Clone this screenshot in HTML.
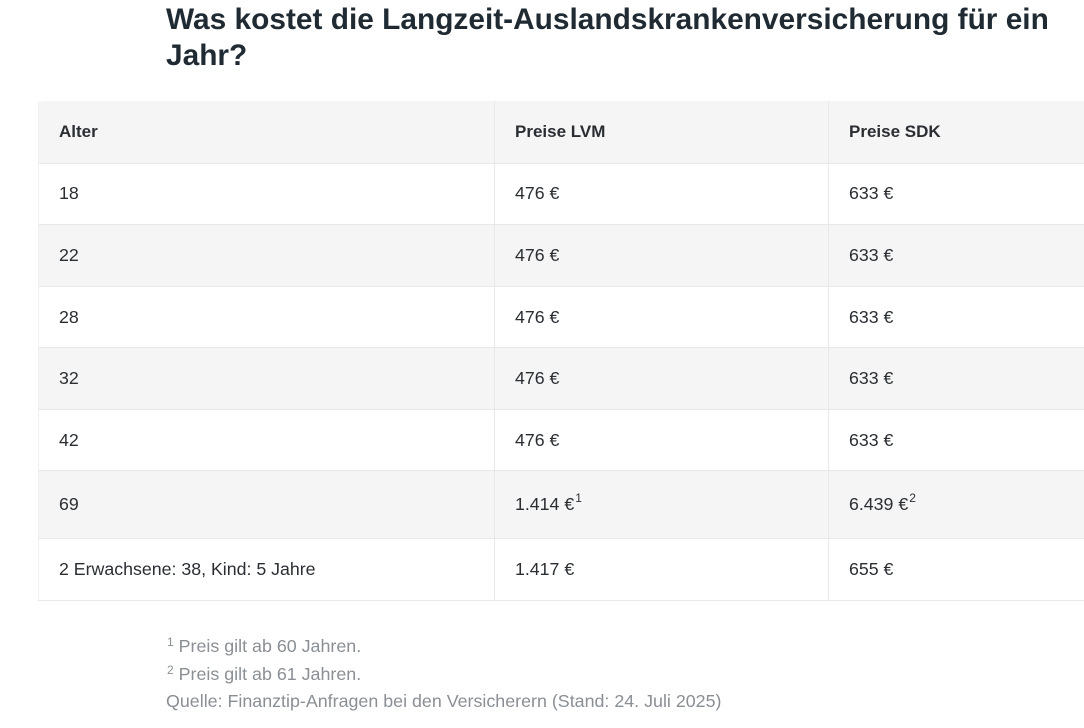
<!DOCTYPE html>
<html><head><meta charset="utf-8"><style>
body{margin:0;width:1084px;height:728px;background:#fff;font-family:"Liberation Sans",sans-serif;color:#1f2328;position:relative;overflow:hidden}
h1{position:absolute;left:166px;top:2px;margin:0;font-size:29.85px;line-height:36px;font-weight:bold;color:#1f2a33;width:918px}
.r{position:absolute;left:38px;width:1046px;border-bottom:1px solid #e8e8e8}
.g{background:#f5f5f5}
.c{position:absolute;top:0;bottom:0;display:flex;align-items:center;font-size:17.75px;color:#2a2e33}
.c1{left:21px}.c2{left:477px}.c3{left:811px}
.v{position:absolute;top:101px;height:499px;width:1px;background:#e8e8e8}
.b{font-weight:bold;font-size:17px}
.s{font-size:12px;position:relative;top:-7px;margin-left:1px}
.f{position:absolute;left:166px;font-size:17.85px;color:#8a8f95}
.f .s{top:-6px}
</style></head><body>
<h1>Was kostet die Langzeit-Auslandskrankenversicherung für ein Jahr?</h1>
<div class="r g" style="top:101px;height:62px;border-radius:6px 0 0 0"><div class="c c1 b">Alter</div><div class="c c2 b">Preise LVM</div><div class="c c3 b">Preise SDK</div></div>
<div class="r" style="top:163px;height:61px"><div class="c c1">18</div><div class="c c2">476 €</div><div class="c c3">633 €</div></div>
<div class="r g" style="top:225px;height:61px"><div class="c c1">22</div><div class="c c2">476 €</div><div class="c c3">633 €</div></div>
<div class="r" style="top:287px;height:60px"><div class="c c1">28</div><div class="c c2">476 €</div><div class="c c3">633 €</div></div>
<div class="r g" style="top:348px;height:61px"><div class="c c1">32</div><div class="c c2">476 €</div><div class="c c3">633 €</div></div>
<div class="r" style="top:410px;height:60px"><div class="c c1">42</div><div class="c c2">476 €</div><div class="c c3">633 €</div></div>
<div class="r g" style="top:471px;height:67px"><div class="c c1">69</div><div class="c c2">1.414 €<span class="s">1</span></div><div class="c c3">6.439 €<span class="s">2</span></div></div>
<div class="r" style="top:539px;height:61px"><div class="c c1">2 Erwachsene: 38, Kind: 5 Jahre</div><div class="c c2">1.417 €</div><div class="c c3">655 €</div></div>
<div class="v" style="left:494px"></div><div class="v" style="left:828px"></div>
<div class="v" style="left:38px;background:#f0f0f0"></div>
<div class="f" style="top:636px"><span class="s">1</span> Preis gilt ab 60 Jahren.</div>
<div class="f" style="top:664px"><span class="s">2</span> Preis gilt ab 61 Jahren.</div>
<div class="f" style="top:691px">Quelle: Finanztip-Anfragen bei den Versicherern (Stand: 24. Juli 2025)</div>
</body></html>
